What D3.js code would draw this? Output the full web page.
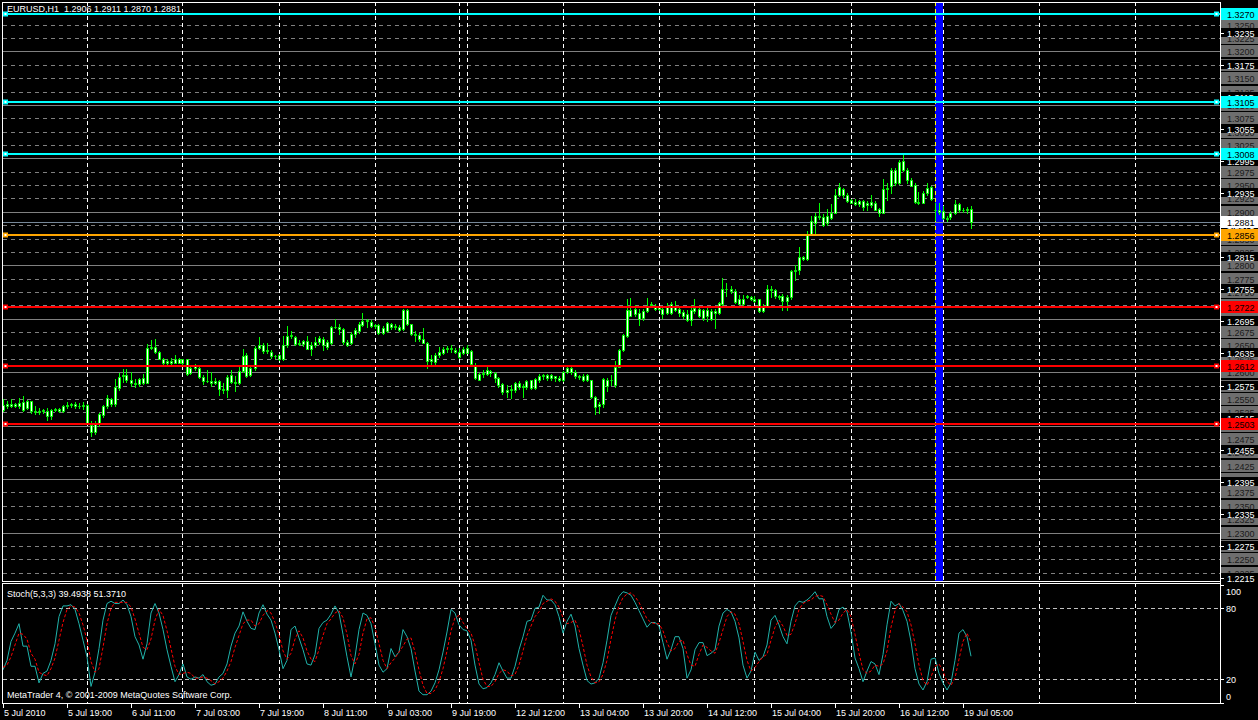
<!DOCTYPE html>
<html><head><meta charset="utf-8">
<script src="https://cdn.jsdelivr.net/npm/d3@7"></script>
<style>
html,body{margin:0;padding:0;background:#000;overflow:hidden}
svg{display:block}
text{font-family:"Liberation Sans",Arial,sans-serif;font-size:9px;white-space:pre}
</style></head><body>
<svg id="chart" width="1258" height="720"></svg>
<script>
// ---------------- DATA ----------------
const symbolTitle = "EURUSD,H1  1.2906 1.2911 1.2870 1.2881";
const stochTitle = "Stoch(5,3,3) 39.4938 51.3710";
const copyright = "MetaTrader 4, \u00a9 2001-2009 MetaQuotes Software Corp.";

const timeLabelBars = [0,16,32,48,64,80,96,112,128,144,160,176,192,208,224,240];
const timeLabels = ["5 Jul 2010","5 Jul 19:00","6 Jul 11:00","7 Jul 03:00","7 Jul 19:00","8 Jul 11:00",
  "9 Jul 03:00","9 Jul 19:00","12 Jul 12:00","13 Jul 04:00","13 Jul 20:00","14 Jul 12:00",
  "15 Jul 04:00","15 Jul 20:00","16 Jul 12:00","19 Jul 05:00"];
const daySeparatorBars = [21,45,69,93,114,116,140,164,188,212,233,235,259,283];
const highlightBars = [233,235];

const priceTicks = [1.3235,1.3175,1.3115,1.3055,1.2995,1.2935,1.2875,1.2815,1.2755,1.2695,1.2635,
  1.2575,1.2515,1.2455,1.2395,1.2335,1.2275,1.2215];
const roundLevels = [1.3250,1.3225,1.3200,1.3175,1.3150,1.3125,1.3100,1.3075,1.3050,1.3025,1.3000,
  1.2975,1.2950,1.2925,1.2900,1.2875,1.2850,1.2825,1.2800,1.2775,1.2750,1.2725,1.2700,1.2675,1.2650,
  1.2625,1.2600,1.2575,1.2550,1.2525,1.2500,1.2475,1.2450,1.2425,1.2400,1.2375,1.2350,1.2325,1.2300,
  1.2275,1.2250,1.2225];
const objectLevels = [1.3270,1.3105,1.3008,1.2856,1.2722,1.2612,1.2503];
const objectKinds  = ["resistance","resistance","resistance","pivot","support","support","support"];
const bidPrice = 1.2881;

const stochLevels = [80,20];
const stochAxisValues = [100,80,20,0];

// [open, high, low, close]
const candles = [
[1.2530,1.2549,1.2527,1.2539],[1.2537,1.2546,1.2533,1.2541],[1.2541,1.2549,1.2535,1.2537],[1.2537,1.2543,1.2535,1.2541],
[1.2537,1.2552,1.2533,1.2542],[1.2544,1.2556,1.2527,1.2530],[1.2533,1.2548,1.2531,1.2546],[1.2546,1.2547,1.2524,1.2527],
[1.2527,1.2536,1.2522,1.2525],[1.2525,1.2533,1.2521,1.2528],[1.2528,1.2532,1.2524,1.2530],[1.2527,1.2533,1.2510,1.2518],
[1.2518,1.2531,1.2513,1.2530],[1.2530,1.2533,1.2527,1.2531],[1.2531,1.2533,1.2525,1.2527],[1.2527,1.2538,1.2526,1.2537],
[1.2537,1.2544,1.2533,1.2539],[1.2539,1.2542,1.2535,1.2541],[1.2541,1.2544,1.2533,1.2537],[1.2537,1.2542,1.2533,1.2537],
[1.2537,1.2545,1.2531,1.2539],[1.2539,1.2540,1.2504,1.2505],[1.2502,1.2508,1.2480,1.2489],[1.2489,1.2508,1.2485,1.2505],
[1.2505,1.2524,1.2499,1.2521],[1.2519,1.2538,1.2517,1.2536],[1.2536,1.2558,1.2533,1.2552],[1.2550,1.2552,1.2537,1.2540],
[1.2540,1.2587,1.2537,1.2572],[1.2571,1.2599,1.2567,1.2591],[1.2593,1.2606,1.2581,1.2594],[1.2595,1.2606,1.2581,1.2585],
[1.2585,1.2600,1.2575,1.2580],[1.2580,1.2587,1.2572,1.2577],[1.2577,1.2590,1.2574,1.2587],[1.2590,1.2597,1.2577,1.2580],
[1.2580,1.2652,1.2579,1.2645],[1.2645,1.2660,1.2644,1.2647],[1.2647,1.2662,1.2635,1.2637],[1.2637,1.2639,1.2624,1.2625],
[1.2625,1.2627,1.2616,1.2617],[1.2617,1.2624,1.2614,1.2620],[1.2620,1.2626,1.2614,1.2618],[1.2618,1.2633,1.2617,1.2625],
[1.2625,1.2627,1.2617,1.2618],[1.2618,1.2625,1.2616,1.2624],[1.2624,1.2625,1.2595,1.2597],[1.2598,1.2611,1.2597,1.2608],
[1.2608,1.2616,1.2605,1.2611],[1.2608,1.2614,1.2589,1.2591],[1.2591,1.2595,1.2577,1.2583],[1.2583,1.2605,1.2581,1.2584],
[1.2584,1.2600,1.2574,1.2580],[1.2580,1.2589,1.2577,1.2584],[1.2584,1.2586,1.2558,1.2569],[1.2569,1.2580,1.2561,1.2567],
[1.2567,1.2595,1.2554,1.2591],[1.2594,1.2605,1.2580,1.2581],[1.2581,1.2592,1.2564,1.2580],[1.2580,1.2611,1.2577,1.2602],
[1.2602,1.2644,1.2601,1.2631],[1.2633,1.2636,1.2591,1.2592],[1.2594,1.2611,1.2592,1.2608],[1.2608,1.2649,1.2605,1.2645],
[1.2645,1.2666,1.2644,1.2651],[1.2651,1.2654,1.2636,1.2639],[1.2639,1.2654,1.2636,1.2641],[1.2637,1.2641,1.2627,1.2630],
[1.2630,1.2632,1.2627,1.2631],[1.2633,1.2634,1.2623,1.2624],[1.2624,1.2667,1.2622,1.2650],[1.2650,1.2687,1.2648,1.2667],
[1.2667,1.2677,1.2664,1.2669],[1.2666,1.2667,1.2651,1.2652],[1.2652,1.2660,1.2650,1.2655],[1.2652,1.2661,1.2649,1.2658],
[1.2658,1.2667,1.2643,1.2644],[1.2644,1.2656,1.2633,1.2650],[1.2650,1.2666,1.2647,1.2656],[1.2656,1.2667,1.2652,1.2664],
[1.2663,1.2666,1.2641,1.2651],[1.2657,1.2660,1.2644,1.2647],[1.2654,1.2686,1.2652,1.2685],[1.2685,1.2699,1.2682,1.2684],
[1.2684,1.2691,1.2672,1.2680],[1.2680,1.2682,1.2652,1.2657],[1.2657,1.2660,1.2649,1.2651],[1.2654,1.2676,1.2652,1.2672],
[1.2672,1.2683,1.2666,1.2679],[1.2677,1.2694,1.2674,1.2690],[1.2689,1.2711,1.2686,1.2696],[1.2696,1.2700,1.2684,1.2697],
[1.2694,1.2697,1.2684,1.2686],[1.2686,1.2691,1.2682,1.2688],[1.2688,1.2691,1.2671,1.2674],[1.2674,1.2686,1.2671,1.2682],
[1.2677,1.2694,1.2675,1.2692],[1.2691,1.2692,1.2680,1.2684],[1.2684,1.2691,1.2680,1.2687],[1.2685,1.2688,1.2677,1.2679],
[1.2680,1.2719,1.2679,1.2716],[1.2717,1.2719,1.2688,1.2690],[1.2690,1.2691,1.2669,1.2672],[1.2672,1.2677,1.2659,1.2669],
[1.2669,1.2674,1.2659,1.2663],[1.2663,1.2682,1.2654,1.2655],[1.2654,1.2657,1.2607,1.2621],[1.2621,1.2632,1.2615,1.2624],
[1.2619,1.2635,1.2616,1.2632],[1.2632,1.2647,1.2629,1.2638],[1.2635,1.2647,1.2634,1.2644],[1.2644,1.2649,1.2638,1.2646],
[1.2646,1.2650,1.2638,1.2643],[1.2642,1.2646,1.2636,1.2638],[1.2638,1.2646,1.2626,1.2629],[1.2636,1.2647,1.2634,1.2644],
[1.2636,1.2650,1.2635,1.2646],[1.2639,1.2641,1.2613,1.2615],[1.2611,1.2617,1.2588,1.2590],[1.2586,1.2599,1.2585,1.2596],
[1.2596,1.2604,1.2591,1.2598],[1.2597,1.2609,1.2594,1.2605],[1.2602,1.2605,1.2593,1.2598],[1.2599,1.2601,1.2582,1.2590],
[1.2590,1.2591,1.2573,1.2576],[1.2578,1.2579,1.2560,1.2563],[1.2563,1.2576,1.2554,1.2566],[1.2566,1.2576,1.2551,1.2568],
[1.2566,1.2582,1.2563,1.2579],[1.2579,1.2584,1.2569,1.2572],[1.2572,1.2577,1.2554,1.2574],[1.2572,1.2585,1.2569,1.2584],
[1.2571,1.2586,1.2569,1.2585],[1.2570,1.2590,1.2568,1.2587],[1.2585,1.2597,1.2582,1.2592],[1.2592,1.2596,1.2588,1.2594],
[1.2594,1.2597,1.2586,1.2590],[1.2590,1.2597,1.2586,1.2594],[1.2592,1.2593,1.2584,1.2590],[1.2590,1.2592,1.2584,1.2586],
[1.2586,1.2602,1.2584,1.2600],[1.2600,1.2611,1.2599,1.2608],[1.2608,1.2610,1.2597,1.2600],[1.2600,1.2604,1.2590,1.2593],
[1.2593,1.2594,1.2587,1.2591],[1.2592,1.2596,1.2584,1.2586],[1.2594,1.2596,1.2584,1.2586],[1.2585,1.2586,1.2551,1.2553],
[1.2554,1.2555,1.2521,1.2535],[1.2537,1.2545,1.2523,1.2541],[1.2540,1.2590,1.2535,1.2588],[1.2586,1.2590,1.2565,1.2574],
[1.2585,1.2594,1.2576,1.2585],[1.2576,1.2621,1.2573,1.2610],[1.2610,1.2644,1.2609,1.2642],[1.2641,1.2672,1.2640,1.2669],
[1.2667,1.2736,1.2666,1.2717],[1.2717,1.2739,1.2705,1.2706],[1.2708,1.2725,1.2705,1.2718],[1.2710,1.2718,1.2689,1.2700],
[1.2702,1.2718,1.2698,1.2715],[1.2714,1.2739,1.2712,1.2723],[1.2725,1.2731,1.2723,1.2727],[1.2723,1.2728,1.2716,1.2718],
[1.2718,1.2722,1.2716,1.2721],[1.2718,1.2723,1.2702,1.2708],[1.2723,1.2730,1.2708,1.2711],[1.2710,1.2731,1.2708,1.2727],
[1.2722,1.2733,1.2714,1.2717],[1.2718,1.2723,1.2705,1.2711],[1.2712,1.2717,1.2702,1.2706],[1.2708,1.2717,1.2695,1.2698],
[1.2698,1.2725,1.2689,1.2717],[1.2715,1.2737,1.2711,1.2720],[1.2718,1.2722,1.2703,1.2705],[1.2702,1.2718,1.2697,1.2717],
[1.2716,1.2723,1.2695,1.2705],[1.2700,1.2718,1.2697,1.2714],[1.2714,1.2718,1.2683,1.2710],[1.2711,1.2731,1.2708,1.2730],
[1.2727,1.2776,1.2725,1.2755],[1.2755,1.2767,1.2742,1.2756],[1.2756,1.2762,1.2748,1.2752],[1.2752,1.2755,1.2730,1.2731],
[1.2737,1.2745,1.2727,1.2728],[1.2727,1.2745,1.2725,1.2736],[1.2743,1.2745,1.2739,1.2741],[1.2741,1.2743,1.2735,1.2737],
[1.2737,1.2742,1.2731,1.2733],[1.2736,1.2737,1.2712,1.2714],[1.2714,1.2727,1.2712,1.2723],[1.2723,1.2764,1.2722,1.2755],
[1.2755,1.2761,1.2741,1.2753],[1.2753,1.2756,1.2739,1.2742],[1.2742,1.2745,1.2737,1.2741],[1.2742,1.2747,1.2716,1.2733],
[1.2733,1.2745,1.2717,1.2740],[1.2740,1.2792,1.2737,1.2789],[1.2789,1.2801,1.2772,1.2792],[1.2792,1.2835,1.2783,1.2816],
[1.2816,1.2818,1.2810,1.2812],[1.2812,1.2864,1.2810,1.2858],[1.2858,1.2892,1.2856,1.2883],[1.2879,1.2897,1.2858,1.2893],
[1.2893,1.2917,1.2886,1.2891],[1.2891,1.2895,1.2874,1.2876],[1.2879,1.2906,1.2876,1.2893],[1.2897,1.2914,1.2886,1.2889],
[1.2898,1.2942,1.2897,1.2932],[1.2932,1.2954,1.2929,1.2947],[1.2942,1.2945,1.2928,1.2931],[1.2932,1.2936,1.2918,1.2920],
[1.2922,1.2924,1.2916,1.2917],[1.2918,1.2924,1.2912,1.2914],[1.2914,1.2923,1.2911,1.2920],[1.2920,1.2922,1.2904,1.2909],
[1.2913,1.2920,1.2903,1.2917],[1.2918,1.2931,1.2909,1.2912],[1.2917,1.2920,1.2903,1.2904],[1.2906,1.2907,1.2893,1.2897],
[1.2898,1.2961,1.2897,1.2942],[1.2942,1.2954,1.2923,1.2945],[1.2948,1.2982,1.2936,1.2979],[1.2978,1.2981,1.2951,1.2954],
[1.2954,1.2996,1.2952,1.2993],[1.2995,1.3007,1.2976,1.2978],[1.2978,1.2982,1.2954,1.2959],[1.2960,1.2964,1.2948,1.2949],
[1.2951,1.2954,1.2917,1.2918],[1.2918,1.2937,1.2914,1.2916],[1.2917,1.2939,1.2916,1.2936],[1.2936,1.2954,1.2932,1.2945],
[1.2947,1.2949,1.2923,1.2924],[1.2904,1.2917,1.2884,1.2903],[1.2904,1.2917,1.2895,1.2899],[1.2901,1.2911,1.2886,1.2888],
[1.2888,1.2893,1.2883,1.2886],[1.2891,1.2901,1.2887,1.2898],[1.2897,1.2922,1.2895,1.2914],[1.2914,1.2917,1.2899,1.2903],
[1.2903,1.2908,1.2899,1.2904],[1.2904,1.2909,1.2898,1.2906],[1.2906,1.2911,1.2870,1.2881]
];

const stochK = [
28,36,52,59,67,48,48,31,31,17, 25,27,36,50,73,82,82,83,79,67,
53,39,14,26,46,70,84,86,84,84, 87,83,73,56,49,37,50,76,84,76,
62,45,31,18,24,33,22,20,22,21, 24,18,15,16,22,25,33,48,59,65,
77,69,63,62,76,83,75,70,59,45, 29,36,62,65,55,45,33,32,41,63,
68,70,75,82,76,58,39,22,39,62, 76,74,67,50,32,26,29,46,39,43,
62,56,46,27,10,7,7,10,17,28, 43,60,79,76,66,62,61,53,32,16,
12,13,17,24,34,27,21,21,31,45, 56,69,70,80,81,91,87,87,83,73,
59,69,75,65,46,32,19,16,17,21, 34,53,74,82,90,94,93,91,85,78,
71,64,68,68,65,51,37,45,56,56, 46,21,28,45,51,51,40,42,45,65,
76,79,77,69,55,32,21,27,43,36, 39,49,70,74,66,56,50,69,82,86,
85,87,90,94,88,88,73,63,67,79, 81,77,60,38,29,18,27,35,33,24,
41,66,86,82,84,78,69,52,29,16, 11,18,37,38,25,17,11,17,36,59,
62,56,39.4938
];
const stochD = [
30,32,39,49,59,58,54,42,37,26, 24,23,29,38,53,68,79,82,81,76,
66,53,35,26,29,47,67,80,85,85, 85,85,81,71,59,47,45,54,70,79,
74,61,46,31,24,25,26,25,21,21, 22,21,19,16,18,21,27,35,47,57,
67,70,70,65,67,74,78,76,68,58, 44,37,42,54,61,55,44,37,35,45,
57,67,71,76,78,72,58,40,33,41, 59,71,72,64,50,36,29,34,38,43,
48,54,55,43,28,15,8,8,11,18, 29,44,61,72,74,68,63,59,49,34,
20,14,14,18,25,28,27,23,24,32, 44,57,65,73,77,84,86,88,86,81,
72,67,68,70,62,48,32,22,17,18, 24,36,54,70,82,89,92,93,90,85,
78,71,68,67,67,61,51,44,46,52, 53,41,32,31,41,49,47,44,42,51,
62,73,77,75,67,52,36,27,30,35, 39,41,53,64,70,65,57,58,67,79,
84,86,87,90,91,90,83,75,68,70, 76,79,73,58,42,28,25,27,32,31,
33,44,64,78,84,81,77,66,50,32, 19,15,22,31,33,27,18,15,21,37,
52,59,51.3710
];

// ---------------- DRAWING ----------------
const svg = d3.select("#chart");
const W = 1258, H = 720;
const axisX = 1220;
const mainTop = 2, mainBottom = 581, stochTop = 583, stochBottom = 703;

const xScale = d3.scaleLinear().domain([0, 242]).range([2.5, 970.5]);
const yMain = d3.scaleLinear().domain([1.2215, 1.3270]).range([578, 14]);
const yStoch = d3.scaleLinear().domain([0, 100]).range([703, 584.6]);
const col = i => Math.round(xScale(i)) + 0.5;
const px = v => Math.round(v) + 0.5;

const kindColor = {resistance:"#00ffff", pivot:"#ffa500", support:"#ff0000"};

svg.append("rect").attr("width", W).attr("height", H).attr("fill", "#000");

const defs = svg.append("defs");
defs.append("clipPath").attr("id","clipMain").append("rect")
  .attr("x",3).attr("y",mainTop+1).attr("width",axisX-3).attr("height",mainBottom-mainTop-1);
defs.append("clipPath").attr("id","clipStoch").append("rect")
  .attr("x",3).attr("y",stochTop+1).attr("width",axisX-3).attr("height",stochBottom-stochTop-1);

const gMain = svg.append("g").attr("clip-path","url(#clipMain)");
const gStoch = svg.append("g").attr("clip-path","url(#clipStoch)");

// round-number levels (grey)
gMain.selectAll("line.lvl").data(roundLevels).join("line").attr("class","lvl")
  .attr("x1",3).attr("x2",axisX).attr("y1",d=>px(yMain(d))).attr("y2",d=>px(yMain(d)))
  .attr("stroke","#808080").attr("stroke-width",1)
  .attr("stroke-dasharray",d=>Math.round(d*10000)%100===0?null:"4,4");

// highlight band (blue)
gMain.append("rect")
  .attr("x", col(highlightBars[0]) - 0.5).attr("y", mainTop)
  .attr("width", col(highlightBars[1]) - col(highlightBars[0]))
  .attr("height", mainBottom - mainTop).attr("fill", "#0000ff");

// vertical day separators
gMain.selectAll("line.vsep").data(daySeparatorBars).join("line").attr("class","vsep")
  .attr("x1",d=>col(d)).attr("x2",d=>col(d)).attr("y1",mainTop).attr("y2",mainBottom)
  .attr("stroke",d=>d===highlightBars[0]?"#ffff00":"#ffffff").attr("stroke-dasharray","4,3");
gStoch.selectAll("line.vsep").data(daySeparatorBars).join("line").attr("class","vsep")
  .attr("x1",d=>col(d)).attr("x2",d=>col(d)).attr("y1",stochTop).attr("y2",stochBottom)
  .attr("stroke","#ffffff").attr("stroke-dasharray","4,3");

// bid line
gMain.append("line").attr("x1",3).attr("x2",axisX)
  .attr("y1",px(yMain(bidPrice))).attr("y2",px(yMain(bidPrice))).attr("stroke","#778899");

// candles
const cg = gMain.append("g");
cg.selectAll("line.wick").data(candles).join("line").attr("class","wick")
  .attr("x1",(d,i)=>col(i)).attr("x2",(d,i)=>col(i))
  .attr("y1",d=>Math.round(yMain(d[1]))).attr("y2",d=>Math.round(yMain(d[2]))+1)
  .attr("stroke","#00ff00");
cg.selectAll("path.body").data(candles).join("path").attr("class","body")
  .attr("d",(d,i)=>{
    const c = col(i);
    const t = px(yMain(Math.max(d[0],d[3])));
    const b = px(yMain(Math.min(d[0],d[3])));
    return `M${c-1},${t}H${c+1}V${b}H${c-1}Z`;
  })
  .attr("fill",d=>d[3]>=d[0]?"#ffffff":"#ffffff").attr("stroke","#00ff00");

// object horizontal lines
const og = gMain.append("g");
objectLevels.forEach((p,k)=>{
  const y = Math.round(yMain(p));
  const c = kindColor[objectKinds[k]];
  og.append("line").attr("x1",3).attr("x2",axisX).attr("y1",y).attr("y2",y)
    .attr("stroke",c).attr("stroke-width",2);
  [3, axisX-6].forEach(x=>{
    og.append("rect").attr("x",x).attr("y",y-2.5).attr("width",5).attr("height",5).attr("fill",c);
    og.append("rect").attr("x",x+1.5).attr("y",y-1).attr("width",2).attr("height",2).attr("fill","#fff");
  });
});

// title
svg.append("text").attr("x",7).attr("y",12).attr("fill","#fff").text(symbolTitle);

// stoch panel levels
gStoch.selectAll("line.slvl").data(stochLevels).join("line").attr("class","slvl")
  .attr("x1",3).attr("x2",axisX).attr("y1",d=>px(yStoch(d))).attr("y2",d=>px(yStoch(d)))
  .attr("stroke","#c0c0c0").attr("stroke-dasharray","4,3");
const line = d3.line().x((d,i)=>xScale(i)+0.5).y(d=>yStoch(d));
gStoch.append("path").attr("d",line(stochK)).attr("fill","none").attr("stroke","#20b2aa").attr("stroke-width",1);
gStoch.append("path").attr("d",line(stochD)).attr("fill","none").attr("stroke","#ff0000")
  .attr("stroke-width",1).attr("stroke-dasharray","3,2");
svg.append("text").attr("x",7).attr("y",597).attr("fill","#fff").text(stochTitle);
svg.append("text").attr("x",7).attr("y",698).attr("fill","#fff").text(copyright);

// frames
const frame = svg.append("g").attr("fill","none").attr("stroke","#fff").attr("shape-rendering","crispEdges");
frame.append("rect").attr("x",2.5).attr("y",mainTop+0.5).attr("width",axisX-2).attr("height",mainBottom-mainTop);
frame.append("rect").attr("x",2.5).attr("y",stochTop+0.5).attr("width",axisX-2).attr("height",stochBottom-stochTop);

// price axis: grey level labels
const ax = svg.append("g");
roundLevels.forEach(p=>{
  const y = Math.round(yMain(p));
  ax.append("rect").attr("x",axisX+1).attr("y",y-6).attr("width",W-axisX-1).attr("height",12).attr("fill","#6e6e6e");
  ax.append("text").attr("x",axisX+7).attr("y",y+3.5).attr("fill","#1a1a1a").text(p.toFixed(4));
});
// normal ticks
priceTicks.forEach(p=>{
  const y = Math.round(yMain(p));
  ax.append("rect").attr("x",axisX+1).attr("y",y-5).attr("width",W-axisX-1).attr("height",9).attr("fill","#000");
  ax.append("line").attr("x1",axisX).attr("x2",axisX+4).attr("y1",y+0.5).attr("y2",y+0.5).attr("stroke","#fff");
  ax.append("text").attr("x",axisX+7).attr("y",y+3.5).attr("fill","#fff").text(p.toFixed(4));
});
// bid label
{
  const y = Math.round(yMain(bidPrice));
  ax.append("rect").attr("x",axisX+1).attr("y",y-6).attr("width",W-axisX-1).attr("height",12).attr("fill","#fff");
  ax.append("text").attr("x",axisX+7).attr("y",y+3.5).attr("fill","#000").text(bidPrice.toFixed(4));
}
// object labels
objectLevels.forEach((p,k)=>{
  const y = Math.round(yMain(p));
  ax.append("rect").attr("x",axisX+1).attr("y",y-6).attr("width",W-axisX-1).attr("height",12).attr("fill",kindColor[objectKinds[k]]);
  ax.append("text").attr("x",axisX+7).attr("y",y+3.5).attr("fill","#000").text(p.toFixed(4));
});
// stoch axis labels
stochAxisValues.forEach(v=>{
  const yy = yStoch(v);
  const ty = Math.max(591, Math.min(696, yy));
  ax.append("line").attr("x1",axisX).attr("x2",axisX+4).attr("y1",px(yy)).attr("y2",px(yy)).attr("stroke","#fff");
  ax.append("text").attr("x",axisX+6).attr("y",ty+3.5).attr("fill","#fff").text(String(v));
});
// axis line
svg.append("line").attr("x1",axisX+0.5).attr("x2",axisX+0.5).attr("y1",mainTop).attr("y2",stochBottom+1).attr("stroke","#fff");

// time axis
const tg = svg.append("g");
timeLabelBars.forEach((b,k)=>{
  const x = col(b);
  tg.append("line").attr("x1",x).attr("x2",x).attr("y1",stochBottom).attr("y2",stochBottom+5).attr("stroke","#fff");
  tg.append("text").attr("x",x+0.5).attr("y",716).attr("fill","#fff").text(timeLabels[k]);
});
</script>
</body></html>
